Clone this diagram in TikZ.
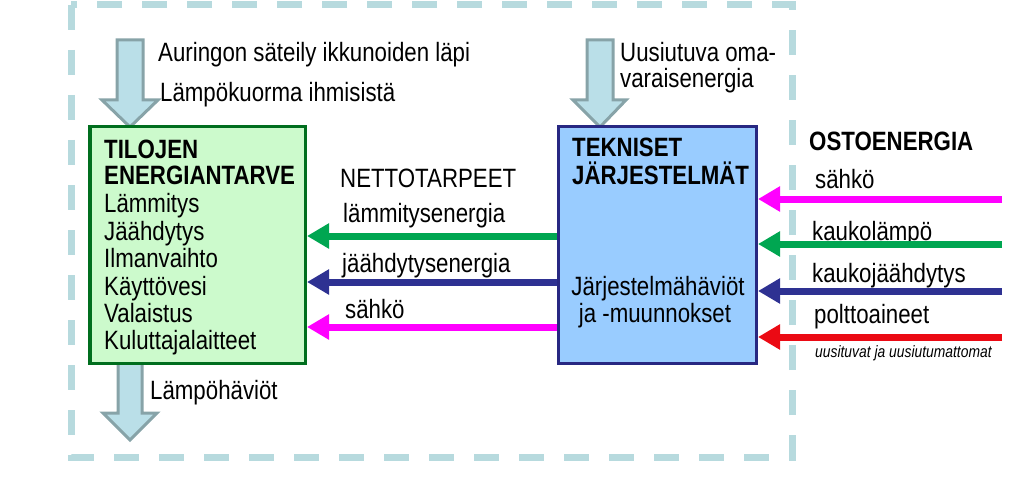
\documentclass[tikz,border=0pt]{standalone}
\usepackage{fontspec}
\setmainfont{Liberation Sans}[FakeStretch=0.84]
\usetikzlibrary{arrows.meta}
\definecolor{dashc}{RGB}{183,218,222}
\definecolor{afill}{RGB}{186,223,232}
\definecolor{abord}{RGB}{135,163,168}
\definecolor{gfill}{RGB}{204,250,204}
\definecolor{gbord}{RGB}{0,110,30}
\definecolor{bfill}{RGB}{153,204,255}
\definecolor{bbord}{RGB}{40,40,130}
\definecolor{agreen}{RGB}{0,166,81}
\definecolor{anavy}{RGB}{46,49,146}
\definecolor{amag}{RGB}{255,0,255}
\definecolor{ared}{RGB}{235,10,20}
\newcommand\bigf{\fontsize{26.5}{30}\selectfont}
\newcommand\smallf{\fontsize{16.5}{19}\selectfont}
\begin{document}
\begin{tikzpicture}[x=1pt,y=-1pt,
  lbl/.style={font=\bigf, anchor=base west, inner sep=0pt},
  blbl/.style={font=\bigf\bfseries, anchor=base west, inner sep=0pt},
  clbl/.style={font=\bigf, anchor=base, inner sep=0pt},
  arr/.style={line width=7pt, -{Triangle[length=22pt,width=24pt]}},
  blockarr/.style={fill=afill, draw=abord, line width=3pt, line join=miter},
  ebox/.style={line width=3.5pt, inner sep=0pt}]
\useasboundingbox (0,0) rectangle (1024,489);
% dashed system boundary
\draw[dashc, line width=7pt, dash pattern=on 25pt off 20pt] (71,5) rectangle (792,457);
% block arrows
\draw[blockarr] (117,40) -- (143,40) -- (143,100) -- (158,100) -- (130,127) -- (102,100) -- (117,100) -- cycle;
\draw[blockarr] (587,40) -- (613,40) -- (613,100) -- (626,100) -- (600,127) -- (573,100) -- (587,100) -- cycle;
\draw[blockarr] (118,360) -- (142,360) -- (142,413) -- (157,413) -- (130,440) -- (103,413) -- (118,413) -- cycle;
% boxes
\node[ebox, draw=gbord, fill=gfill, minimum width=215.5pt, minimum height=236.5pt] (tilat) at (197.5,245) {};
\node[ebox, line width=3pt, draw=bbord, fill=bfill, minimum width=198pt, minimum height=237pt] (tekn) at (657.5,245) {};
% top texts
\node[lbl] (aur) at (158,62) {Auringon säteily ikkunoiden läpi};
\node[lbl] (lampo) at (160,102) {Lämpökuorma ihmisistä};
\node[lbl] (uus1) at (620,62) {Uusiutuva oma-};
\node[lbl] (uus2) at (620,88) {varaisenergia};
\node[lbl] (hav) at (150,399) {Lämpöhäviöt};
% green box text
\node[blbl] (g1) at (104,159) {TILOJEN};
\node[blbl] (g2) at (104,185) {ENERGIANTARVE};
\node[lbl] (g3) at (104,212) {Lämmitys};
\node[lbl] (g4) at (104,240) {Jäähdytys};
\node[lbl] (g5) at (104,267) {Ilmanvaihto};
\node[lbl] (g6) at (104,295) {Käyttövesi};
\node[lbl] (g7) at (104,322) {Valaistus};
\node[lbl] (g8) at (104,349) {Kuluttajalaitteet};
% blue box text
\node[blbl] (b1) at (572,157) {TEKNISET};
\node[blbl] (b2) at (572,185) {JÄRJESTELMÄT};
\node[clbl] (b3) at (658,295) {Järjestelmähäviöt};
\node[clbl] (b4) at (655,322) {ja -muunnokset};
% middle texts and arrows
\node[lbl] (netto) at (340,187) {NETTOTARPEET};
\node[lbl] (m1) at (343,222) {lämmitysenergia};
\node[lbl] (m2) at (342,272) {jäähdytysenergia};
\node[lbl] (m3) at (345,318) {sähkö};
\draw[arr, agreen] (tekn.west |- 0,236) -- (tilat.east |- 0,236);
\draw[arr, anavy] (tekn.west |- 0,282) -- (tilat.east |- 0,282);
\draw[arr, amag] (tekn.west |- 0,327) -- (tilat.east |- 0,327);
% purchased energy
\node[blbl] (osto) at (809,150) {OSTOENERGIA};
\node[lbl] (r1) at (815,188) {sähkö};
\node[lbl] (r2) at (812,240) {kaukolämpö};
\node[lbl] (r3) at (812,282) {kaukojäähdytys};
\node[lbl] (r4) at (814,323) {polttoaineet};
\node[font=\smallf\itshape, anchor=base west, inner sep=0pt] (r5) at (815,357) {uusituvat ja uusiutumattomat};
\coordinate (e1) at (1002,199);
\coordinate (e2) at (1002,244);
\coordinate (e3) at (1002,291);
\coordinate (e4) at (1002,337);
\draw[arr, amag] (e1) -- (tekn.east |- e1);
\draw[arr, agreen] (e2) -- (tekn.east |- e2);
\draw[arr, anavy] (e3) -- (tekn.east |- e3);
\draw[arr, ared] (e4) -- (tekn.east |- e4);
\end{tikzpicture}
\end{document}
